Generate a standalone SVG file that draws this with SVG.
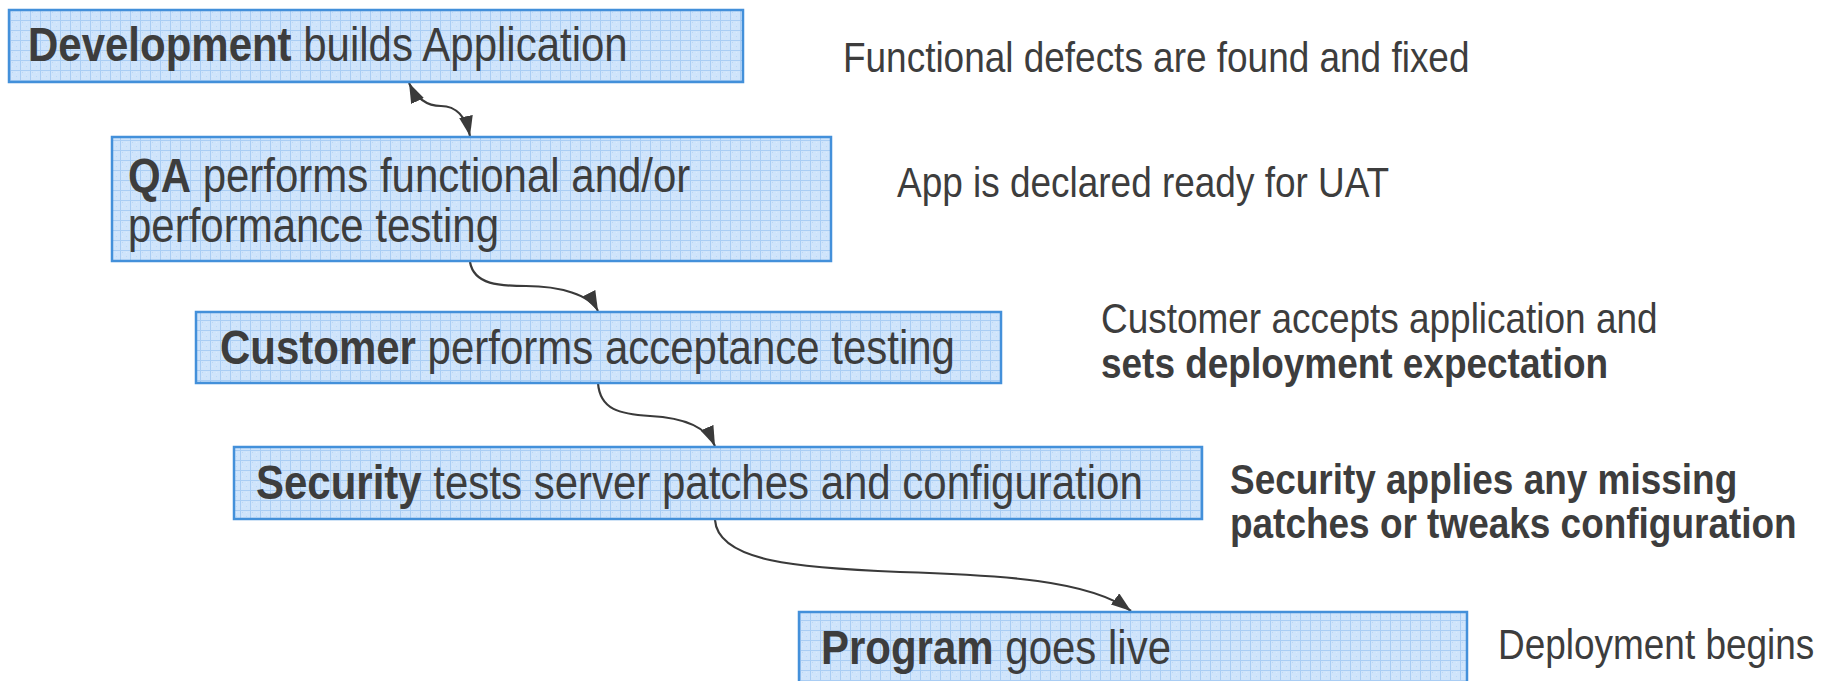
<svg xmlns="http://www.w3.org/2000/svg" width="1832" height="681" viewBox="0 0 1832 681">
  <defs>
    <!-- fine blue grid used as the box fill -->
    <pattern id="grid" width="10" height="10" patternUnits="userSpaceOnUse">
      <rect width="10" height="10" fill="#cfe4fb"/>
      <rect x="2" y="2" width="1" height="1" fill="#b9d7f7"/>
      <rect x="6" y="6" width="1" height="1" fill="#b9d7f7"/>
      <rect x="6" y="2" width="1" height="1" fill="#dbeafc"/>
      <rect x="2" y="6" width="1" height="1" fill="#dbeafc"/>
      <path d="M0 0.5 H10 M0.5 0 V10" stroke="#a9cdf4" stroke-width="1" fill="none"/>
    </pattern>
    <marker id="arrow" markerUnits="userSpaceOnUse" markerWidth="20" markerHeight="14" refX="20" refY="7" orient="auto-start-reverse">
      <path d="M0 0 L20 7 L0 14 Z" fill="#3a3a3a"/>
    </marker>
  </defs>
  <style>
    .box { fill: url(#grid); stroke: #4390da; stroke-width: 2.5; }
    /* condensed lettering: tall glyphs squeezed horizontally */
    .label { font-family: "Liberation Sans", Arial, sans-serif; font-size: 48px; fill: #3d3d3d; }
    .note { font-family: "Liberation Sans", Arial, sans-serif; font-size: 42px; fill: #3d3d3d; }
    .b { font-weight: bold; }
    .link { fill: none; stroke: #3a3a3a; stroke-width: 2.2; marker-end: url(#arrow); }
  </style>

  <rect width="1832" height="681" fill="#ffffff"/>

  <g id="connectors">
    <path class="link" d="M409 83 C417 100 428 106 441 106 C456 106 466 117 470 136" marker-start="url(#arrow)"/>
    <path class="link" d="M470 262 C474 285 500 286 526 286 C560 286 590 295 598 311"/>
    <path class="link" d="M598 383 C600 410 620 414 650 416 C690 418 708 430 715 446"/>
    <path class="link" d="M715 520 C718 562 800 568 900 572 C1000 575 1090 580 1131 611"/>
  </g>

  <g id="node-development">
    <rect class="box" x="9" y="10" width="734" height="72"/>
    <text class="label" transform="translate(28 61) scale(0.875 1)"><tspan class="b">Development</tspan> builds Application</text>
  </g>

  <g id="node-qa">
    <rect class="box" x="112" y="137" width="719" height="124"/>
    <text class="label" transform="translate(128 192) scale(0.875 1)"><tspan class="b">QA</tspan> performs functional and/or</text>
    <text class="label" transform="translate(128 242) scale(0.875 1)">performance testing</text>
  </g>

  <g id="node-customer">
    <rect class="box" x="196" y="312" width="805" height="71"/>
    <text class="label" transform="translate(220 364) scale(0.875 1)"><tspan class="b">Customer</tspan> performs acceptance testing</text>
  </g>

  <g id="node-security">
    <rect class="box" x="234" y="447" width="968" height="72"/>
    <text class="label" transform="translate(256 499) scale(0.875 1)"><tspan class="b">Security</tspan> tests server patches and configuration</text>
  </g>

  <g id="node-program">
    <rect class="box" x="799" y="612" width="668" height="80"/>
    <text class="label" transform="translate(821 664) scale(0.875 1)"><tspan class="b">Program</tspan> goes live</text>
  </g>

  <g id="notes">
    <text class="note" transform="translate(843 72) scale(0.88 1)">Functional defects are found and fixed</text>
    <text class="note" transform="translate(897 197) scale(0.88 1)">App is declared ready for UAT</text>
    <text class="note" transform="translate(1101 333) scale(0.88 1)">Customer accepts application and</text>
    <text class="note b" transform="translate(1101 378) scale(0.88 1)">sets deployment expectation</text>
    <text class="note b" transform="translate(1230 494) scale(0.88 1)">Security applies any missing</text>
    <text class="note b" transform="translate(1230 538) scale(0.88 1)">patches or tweaks configuration</text>
    <text class="note" transform="translate(1498 659) scale(0.88 1)">Deployment begins</text>
  </g>
</svg>
